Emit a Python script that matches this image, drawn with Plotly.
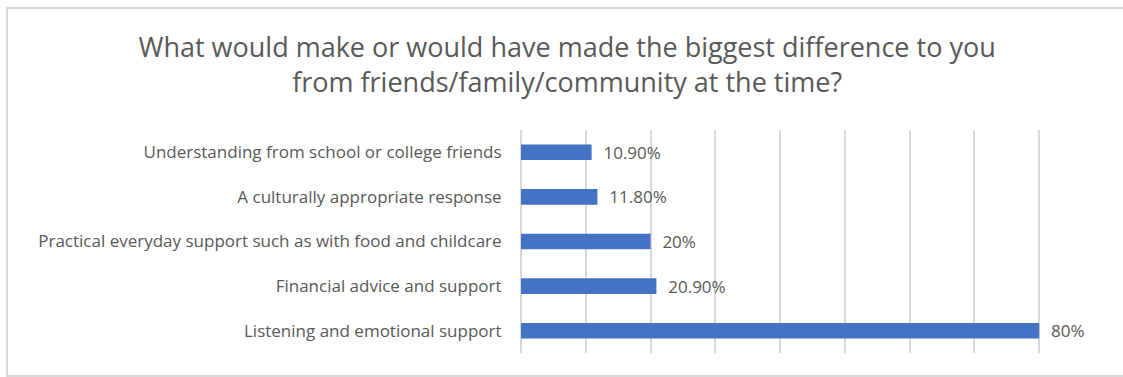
import plotly.graph_objects as go

categories = [
    "Understanding from school or college friends",
    "A culturally appropriate response",
    "Practical everyday support such as with food and childcare",
    "Financial advice and support",
    "Listening and emotional support",
]
values = [0.109, 0.118, 0.20, 0.209, 0.80]
value_labels = ["10.90%", "11.80%", "20%", "20.90%", "80%"]

title_text = ("What would make or would have made the biggest difference to you<br>"
              "from friends/family/community at the time?")

FONT = "'Open Sans', sans-serif"
GRAY = "#595959"

fig = go.Figure(go.Bar(
    x=values,
    y=categories,
    orientation="h",
    marker=dict(color="#4472C4", line=dict(width=0)),
    width=0.35,
    text=["  " + t for t in value_labels],
    textposition="outside",
    constraintext="none",
    textfont=dict(family=FONT, size=17, color=GRAY),
    cliponaxis=False,
))

W, H = 1123, 377
L, R, T, B = 521, 19, 130, 24
pw = W - L - R
ph = H - T - B

def px_x(px):
    return (px - L) / pw

def px_y(py):
    return (H - B - py) / ph

fig.update_layout(
    width=W, height=H,
    margin=dict(l=L, r=R, t=T, b=B),
    paper_bgcolor="white",
    plot_bgcolor="white",
    showlegend=False,
    title=dict(
        text=title_text,
        x=0.505, xanchor="center",
        y=1 - 57 / H, yanchor="middle",
        font=dict(family=FONT, size=27, color=GRAY),
    ),
    xaxis=dict(
        range=[0, 0.9],
        dtick=0.1,
        showgrid=True,
        gridcolor="#d9d9d9",
        gridwidth=1.5,
        zeroline=True,
        zerolinecolor="#d9d9d9",
        zerolinewidth=1.5,
        showticklabels=False,
        fixedrange=True,
    ),
    yaxis=dict(
        autorange="reversed",
        tickfont=dict(family=FONT, size=17, color=GRAY),
        ticks="outside",
        ticklen=15,
        tickcolor="rgba(0,0,0,0)",
        showline=False,
        showgrid=False,
    ),
    shapes=[dict(
        type="rect", xref="paper", yref="paper",
        x0=px_x(7), x1=px_x(1126), y0=px_y(376), y1=px_y(8),
        line=dict(color="#d9d9d9", width=2),
        fillcolor="rgba(0,0,0,0)", layer="below",
    )],
)

fig.write_html("out.html")
